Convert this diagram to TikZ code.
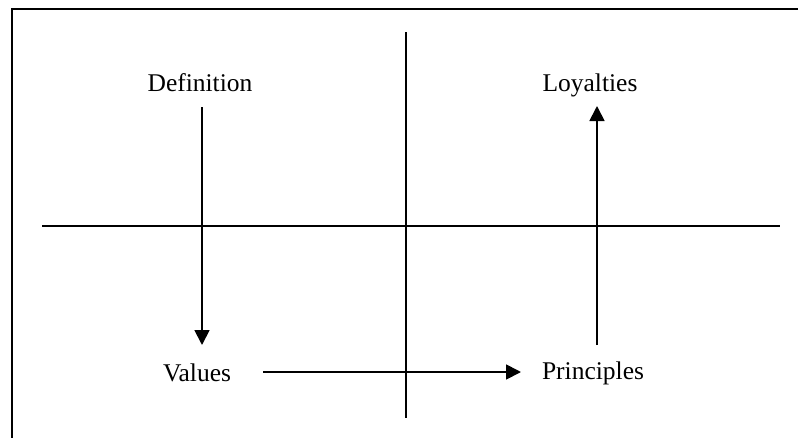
\documentclass[tikz,border=0pt]{standalone}
\usepackage{fontspec}
\setmainfont{Liberation Serif}
\usetikzlibrary{arrows.meta}
\begin{document}
\begin{tikzpicture}[x=1pt,y=-1pt,
  lbl/.style={font=\fontsize{25.5}{30}\selectfont, inner sep=0pt},
  ln/.style={line width=1.8pt},
  arr/.style={line width=1.8pt,-{Triangle[width=15pt,length=15pt]}}]
\useasboundingbox (0,0) rectangle (798,437);
% frame
\draw[line width=2.2pt] (12,440) -- (12,9) -- (800,9);
% axes
\coordinate (hl) at (42,226);
\coordinate (hr) at (780,226);
\coordinate (vt) at (406,32);
\coordinate (vb) at (406,418);
\draw[ln] (hl) -- (hr);
\draw[ln] (vt) -- (vb);
% labels
\node[lbl] (def) at (200,83) {Definition};
\node[lbl] (loy) at (590,85) {Loyalties};
\node[lbl] (val) at (197,373) {Values};
\node[lbl] (pri) at (593,373) {Principles};
% arrow ends
\coordinate (a1s) at (202,107);
\coordinate (a1e) at (202,345);
\coordinate (a2s) at (263,372);
\coordinate (a2e) at (521,372);
\coordinate (a3s) at (597,345);
\coordinate (a3e) at (597,106);
\draw[arr] (a1s) -- (a1e);
\draw[arr] (a2s) -- (a2e);
\draw[arr] (a3s) -- (a3e);
\end{tikzpicture}
\end{document}
